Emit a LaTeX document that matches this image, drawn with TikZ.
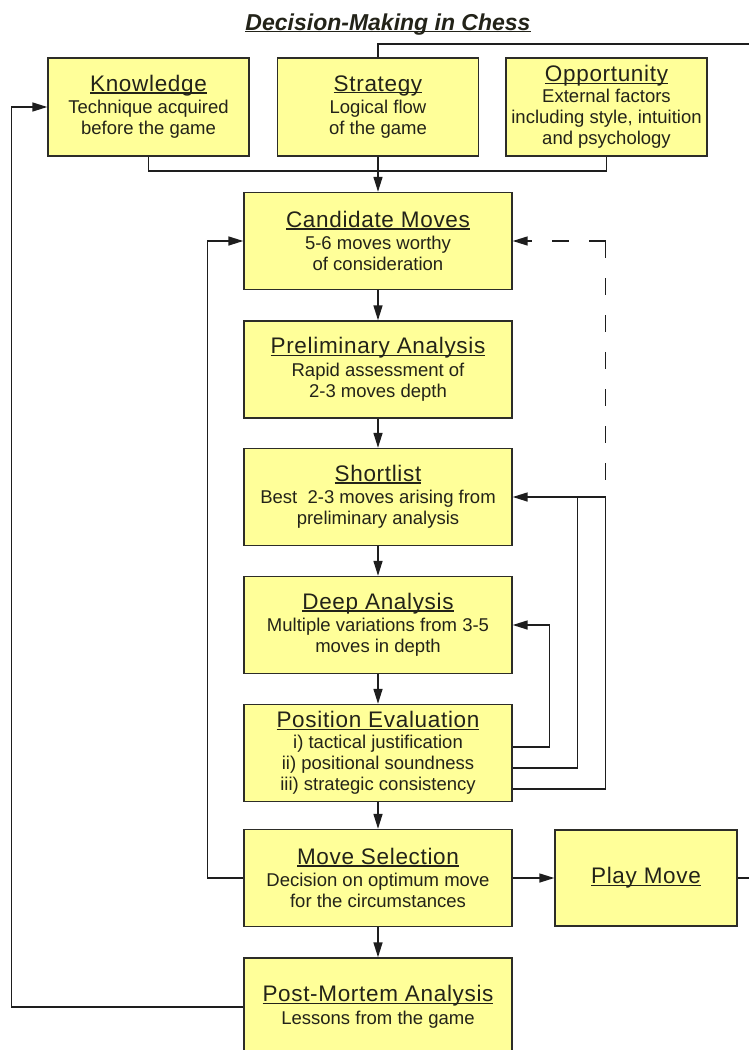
\documentclass[tikz,border=0pt]{standalone}
\usepackage{fontspec}
\setmainfont{Liberation Sans}
\newfontfamily\ttlfam[LetterSpace=3]{Liberation Sans}
\usetikzlibrary{arrows.meta,calc}
\definecolor{boxfill}{RGB}{255,255,153}
\definecolor{boxline}{RGB}{45,45,40}
\definecolor{txt}{RGB}{35,35,25}
\definecolor{ln}{RGB}{30,30,30}
\newcommand\undl[1]{\setbox0\hbox{#1}\rlap{\rule[-2.2pt]{\wd0}{1.3pt}}\box0}
\newcommand\ttl[1]{{\ttlfam\fontsize{22.5}{22}\selectfont\undl{#1}}}
\begin{document}
\begin{tikzpicture}[x=1pt,y=-1pt,
  box/.style={draw=boxline, fill=boxfill, line width=1.4pt, minimum width=268pt,
    minimum height=97pt, inner sep=0pt, align=center, text=txt,
    font=\fontsize{18.5}{21}\selectfont},
  topbox/.style={box, minimum width=201pt, minimum height=98pt},
  conn/.style={draw=ln, line width=1.5pt},
  arr/.style={conn, -{Triangle[length=15pt,width=9pt]}},
  dashline/.style={dash pattern=on 17pt off 20pt}
]
\clip (0,0) rectangle (749,1050);
\fill[white] (0,0) rectangle (749,1050);

\node[anchor=base, text=txt, inner sep=0pt, font=\fontsize{23}{23}\selectfont\bfseries\itshape]
  (title) at (388,30) {\undl{Decision-Making in Chess}};

\node[topbox] (K) at (148.5,107) {\ttl{Knowledge}\\[1.5pt] Technique acquired\\ before the game};
\node[topbox] (S) at (378,107) {\ttl{Strategy}\\[1.5pt] Logical flow\\ of the game};
\node[topbox] (O) at (606.5,107) {\ttl{Opportunity}\\ External factors\\ including style, intuition\\ and psychology};

\node[box] (C) at (378,241) {\ttl{Candidate Moves}\\[1.5pt] 5-6 moves worthy\\ of consideration};
\node[box] (Pr) at (378,369.5) {\ttl{Preliminary Analysis}\\[1.5pt] Rapid assessment of\\ 2-3 moves depth};
\node[box] (Sh) at (378,497) {\ttl{Shortlist}\\[1.5pt] Best~ 2-3 moves arising from\\ preliminary analysis};
\node[box] (D) at (378,625) {\ttl{Deep Analysis}\\[1.5pt] Multiple variations from 3-5\\ moves in depth};
\node[box] (PE) at (378,753) {\ttl{Position Evaluation}\\ i) tactical justification\\ ii) positional soundness\\ iii) strategic consistency};
\node[box] (M) at (378,878) {\ttl{Move Selection}\\[1.5pt] Decision on optimum move\\ for the circumstances};
\node[box, minimum height=98pt] (PM) at (378,1007) {\ttl{Post-Mortem Analysis}\\[1.5pt] Lessons from the game};
\node[box, minimum width=182pt, minimum height=96pt] (P) at (646,878) {\ttl{Play Move}};

\coordinate (bus) at (378,171);
\draw[conn] (K.south) |- (bus) -| (O.south);
\draw[arr] (S.south) -- (C.north);
\coordinate (topR) at (749,44);
\draw[conn] (topR) -| (S.north);
\coordinate (playR) at (749,878);
\draw[conn] (P.east) -- (playR);
\draw[arr] (M.east) -- (P.west);
\foreach \a/\b in {C/Pr,Pr/Sh,Sh/D,D/PE,PE/M,M/PM} \draw[arr] (\a.south) -- (\b.north);
\draw[arr] (M.west) -- ++(-36,0) |- (C.west);
\draw[arr] (PM.west) -- ++(-232,0) |- (K.west);

\draw[arr] ($(PE.east)+(0,-6)$) -- ++(37,0) |- (D.east);
\draw[conn] ($(PE.east)+(0,15)$) -| ($(Sh.east)+(65,0)$);
\draw[arr] ($(PE.east)+(0,36)$) -- ++(93,0) |- (Sh.east);
\coordinate (dc) at ($(C.east)+(93,0)$);
\draw[conn, dashline] (dc) -- ($(Sh.east)+(93,0)$);
\draw[arr, dashline] (dc) -- (C.east);
\end{tikzpicture}
\end{document}
